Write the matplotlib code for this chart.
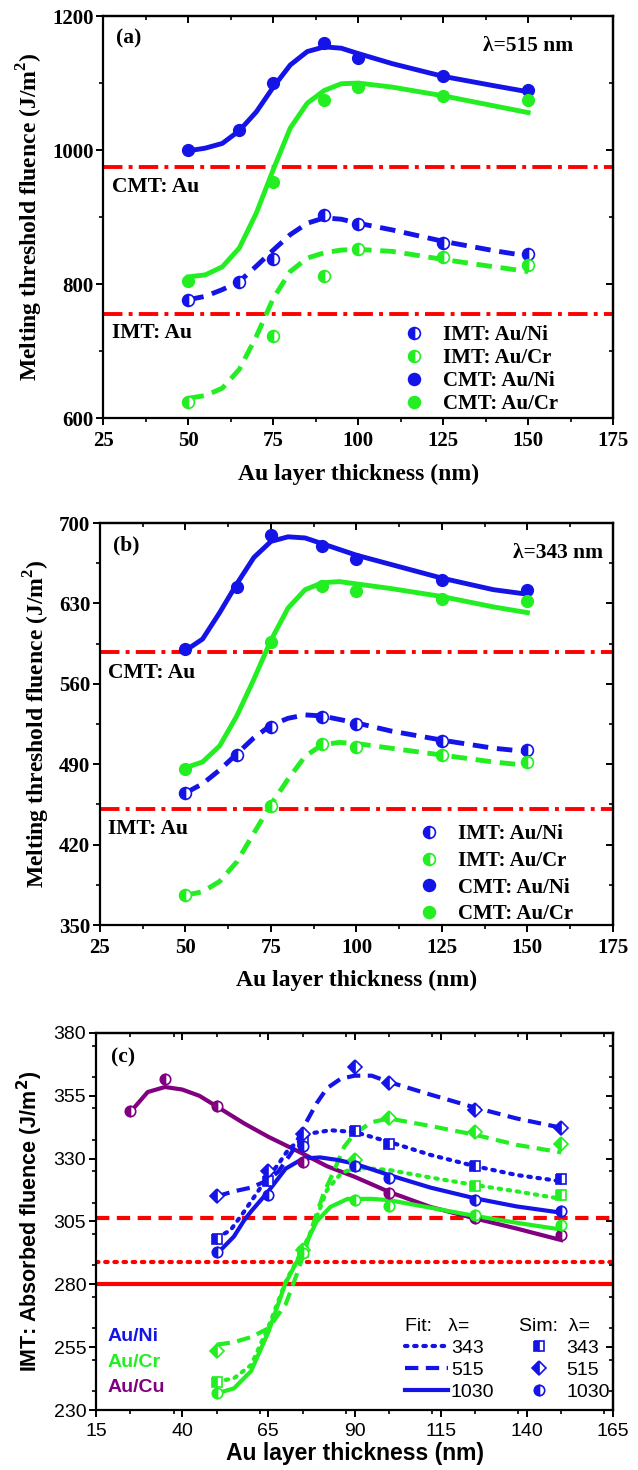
import matplotlib
matplotlib.use("Agg")
import matplotlib.pyplot as plt
from matplotlib.lines import Line2D
from matplotlib.ticker import MultipleLocator

AZUL, VERDE, ROJO, MORADO = "#1414E6", "#22EE22", "#FF0000", "#800080"
SERIF, SANS = "Liberation Serif", "Liberation Sans"

# ---------------- (a) lambda = 515 nm ----------------
x_ni = [50, 65, 75, 90, 100, 125, 150]
x_cr = [50, 75, 90, 100, 125, 150]
cmt_ni_a = [1000, 1030, 1100, 1160, 1137, 1110, 1090]
cmt_cr_a = [805, 952, 1075, 1094, 1081, 1075]
imt_ni_a = [777, 803, 838, 904, 890, 862, 845]
imt_cr_a = [625, 723, 813, 853, 840, 829]
au_cmt_a, au_imt_a = 975, 755

# curvas de ajuste
x_fit = [50, 55, 60, 65, 70, 75, 80, 85, 90, 95, 100, 110, 125, 140, 150]
fit_cmt_ni_a = [999, 1003, 1010, 1029, 1057, 1094, 1127, 1147, 1154, 1152, 1144, 1129, 1110, 1096, 1087]
fit_cmt_cr_a = [811, 814, 826, 854, 906, 971, 1033, 1070, 1089, 1099, 1100, 1094, 1081, 1066, 1056]
fit_imt_ni_a = [777, 782, 792, 804, 827, 851, 874, 891, 899, 897, 891, 881, 864, 850, 842]
fit_imt_cr_a = [630, 634, 645, 673, 722, 779, 819, 839, 847, 851, 852, 849, 837, 826, 819]

# ---------------- (b) lambda = 343 nm ----------------
cmt_ni_b = [590, 644, 690, 680, 669, 650, 642]
cmt_cr_b = [486, 596, 645, 641, 634, 632]
imt_ni_b = [465, 498, 522, 531, 525, 510, 502]
imt_cr_b = [376, 454, 508, 505, 498, 492]
au_cmt_b, au_imt_b = 588, 451

fit_cmt_ni_b = [589, 599, 622, 647, 670, 684, 688, 687, 682, 677, 672, 664, 652, 642, 638]
fit_cmt_cr_b = [487, 492, 506, 532, 564, 598, 626, 642, 648, 649, 647, 643, 636, 627, 622]
fit_imt_ni_b = [465, 473, 485, 499, 513, 524, 530, 533, 532, 529, 526, 519, 511, 504, 501]
fit_imt_cr_b = [376, 379, 388, 405, 430, 455, 477, 497, 507, 509, 508, 504, 498, 492, 489]

# ---------------- (c) IMT, fluencia absorbida ----------------
ni_343 = [298, 321, 337, 341, 336, 327, 322]
ni_515 = [315, 325, 340, 366.5, 360, 349.5, 342]
ni_1030 = [293, 315.5, 335, 327, 322.5, 313.5, 309]
x_cr343 = [50, 75, 90, 125, 150]
cr_343 = [241.3, 293, 327, 319.2, 315.5]
cr_515 = [253.3, 293.5, 329.5, 346, 340.5, 336]
cr_1030 = [236.6, 292.3, 313.5, 311.2, 307.5, 303.5]
x_cu = [25, 35, 50, 75, 100, 125, 150]
cu_1030 = [348.8, 361.5, 350.8, 328.7, 316.2, 306.5, 299.6]
au_515, au_343, au_1030 = 306.2, 289, 280.3

xf_cu = [25, 30, 35, 40, 45, 50, 58, 65, 75, 82, 90, 100, 112, 125, 137, 150]
fit_cu_1030 = [348.6, 356.5, 358.5, 357.5, 355, 350.8, 344, 338.7, 332, 327, 322.8, 316.8, 310.8, 306.2, 302.2, 297.6]
xf_ni1030 = [50, 55, 58, 60, 65, 70, 75, 80, 85, 90, 100, 112, 125, 137, 150]
fit_ni_1030 = [292, 299, 305.5, 309, 317, 326, 330, 330.5, 329.5, 328, 323.5, 318.5, 314.2, 311, 308.5]
xf_ni343 = [50, 54, 58, 63.5, 68, 71, 77, 83, 90, 100, 112, 125, 137, 150]
fit_ni_343 = [298.5, 301.5, 309, 320, 328, 334, 340, 341.3, 340.6, 336.7, 331.5, 327, 323.5, 321]
xf_ni515 = [50, 55, 60, 65, 68, 72, 75, 79, 82, 86, 90, 95, 100, 112, 125, 137, 150]
fit_ni_515 = [315, 317, 318.5, 321.5, 325, 333, 342, 352, 358, 361.8, 363, 363, 360.5, 355.5, 350.3, 346, 342.3]
xf_cr1030 = [50, 55, 60, 65, 70, 75, 79, 83, 88, 95, 100, 112, 125, 137, 150]
fit_cr_1030 = [236.6, 238.6, 245.5, 261, 280.5, 293.5, 305, 310.8, 314, 314, 313.5, 310.5, 307.2, 304.5, 301.8]
xf_cr343 = [50, 55, 60, 65, 70, 75, 78, 82, 86, 90, 100, 112, 125, 137, 150]
fit_cr_343 = [241.3, 242.6, 247.9, 263, 281, 294, 303, 317.5, 324, 326.5, 325.5, 322.5, 319.5, 317, 314]
xf_cr515 = [50, 55, 60, 65, 70, 73, 75, 78, 81, 84, 87, 90, 95, 100, 112, 125, 137, 150]
fit_cr_515 = [256, 257, 259, 262.5, 272, 283, 291, 304, 316, 325, 334.7, 340, 344.5, 346, 343, 339.5, 335.5, 332.5]

plt.rcParams.update({
    "font.family": SERIF, "font.weight": "bold", "axes.labelweight": "bold",
    "axes.linewidth": 1.6, "mathtext.fontset": "custom",
    "mathtext.rm": SERIF + ":bold", "mathtext.bf": SERIF + ":bold",
    "xtick.major.width": 1.4, "ytick.major.width": 1.4,
    "xtick.minor.width": 1.2, "ytick.minor.width": 1.2,
    "xtick.major.size": 5, "ytick.major.size": 5,
    "xtick.minor.size": 3, "ytick.minor.size": 3,
})


def marco(ax, xt, xmin, yt, ymin, familia, peso, tam):
    """Ticks hacia afuera abajo/izq y hacia adentro arriba/der."""
    ax.set_xticks(xt, labels=[str(v) for v in xt], fontfamily=familia,
                  fontweight=peso, fontsize=tam)
    ax.set_yticks(yt, labels=[str(v) for v in yt], fontfamily=familia,
                  fontweight=peso, fontsize=tam)
    ax.xaxis.set_minor_locator(MultipleLocator(xmin))
    ax.yaxis.set_minor_locator(MultipleLocator(ymin))
    ax.tick_params(which="both", direction="out")
    ax.tick_params(axis="x", pad=4)
    ax.tick_params(axis="y", pad=2)
    arriba = ax.secondary_xaxis("top")
    arriba.set_xticks(xt)
    arriba.xaxis.set_minor_locator(MultipleLocator(xmin))
    arriba.tick_params(which="both", direction="in", labeltop=False)
    der = ax.secondary_yaxis("right")
    der.set_yticks(yt)
    der.yaxis.set_minor_locator(MultipleLocator(ymin))
    der.tick_params(which="both", direction="in", labelright=False)


def medio(ax, x, y, color, marker="o", ms=8.5):
    ax.plot(x, y, ls="none", marker=marker, ms=ms, color=color, mfc=color,
            mfcalt="white", mec=color, mew=1.2, fillstyle="left", zorder=4)


def lleno(ax, x, y, color):
    ax.plot(x, y, ls="none", marker="o", ms=8.5, color=color, zorder=4)


def panel_fusion(ax, d, etiqueta, lam, lam_x, leg_xy, leg_sp, txt_y):
    (cni, ccr, ini, icr, fcni, fccr, fini, ficr, ycmt, yimt) = d
    ax.axhline(ycmt, color=ROJO, ls=(0, (5, 1.6, 1, 1.6)), lw=2.8, zorder=1)
    ax.axhline(yimt, color=ROJO, ls=(0, (5, 1.6, 1, 1.6)), lw=2.8, zorder=1)
    ax.plot(x_fit, fcni, color=AZUL, lw=3.5)
    ax.plot(x_fit, fccr, color=VERDE, lw=3.5)
    ax.plot(x_fit, fini, color=AZUL, lw=3.5, ls=(0, (3.2, 1.8)))
    ax.plot(x_fit, ficr, color=VERDE, lw=3.5, ls=(0, (3.2, 1.8)))
    lleno(ax, x_ni, cni, AZUL)
    lleno(ax, x_cr, ccr, VERDE)
    medio(ax, x_ni, ini, AZUL)
    medio(ax, x_cr, icr, VERDE)
    ax.set_xlim(25, 175)
    ax.set_xlabel("Au layer thickness (nm)", fontsize=17, labelpad=9)
    ax.set_ylabel(r"Melting threshold fluence (J/m$^{2}$)", fontsize=17,
                  labelpad=5)
    ax.text(0.025, 0.945, etiqueta, transform=ax.transAxes, fontsize=15.5,
            va="center")
    ax.text(lam_x, 0.925, lam, transform=ax.transAxes, fontsize=15.5,
            va="center", ha="left")
    ax.text(0.016, txt_y[0], "CMT: Au", transform=ax.transAxes, fontsize=15.5,
            va="center")
    ax.text(0.016, txt_y[1], "IMT: Au", transform=ax.transAxes, fontsize=15.5,
            va="center")
    kw = dict(ls="none", marker="o", ms=8.5, mew=1.2)
    manijas = [
        Line2D([], [], color=AZUL, mfc=AZUL, mfcalt="white", fillstyle="left", **kw),
        Line2D([], [], color=VERDE, mfc=VERDE, mfcalt="white", fillstyle="left", **kw),
        Line2D([], [], color=AZUL, **kw),
        Line2D([], [], color=VERDE, **kw),
    ]
    ax.legend(manijas, ["IMT: Au/Ni", "IMT: Au/Cr", "CMT: Au/Ni", "CMT: Au/Cr"],
              loc="center left", bbox_to_anchor=leg_xy, frameon=False,
              prop=dict(family=SERIF, weight="bold", size=15),
              handlelength=1.2, handletextpad=0.8, labelspacing=leg_sp,
              borderpad=0, borderaxespad=0)


fig = plt.figure(figsize=(6.38, 14.7), dpi=100)
ax_a = fig.add_axes([0.162, 0.7154, 0.799, 0.2737])
ax_b = fig.add_axes([0.1567, 0.3707, 0.804, 0.2735])
ax_c = fig.add_axes([0.1505, 0.0408, 0.8103, 0.2565])

panel_fusion(ax_a, (cmt_ni_a, cmt_cr_a, imt_ni_a, imt_cr_a, fit_cmt_ni_a,
                    fit_cmt_cr_a, fit_imt_ni_a, fit_imt_cr_a, au_cmt_a, au_imt_a),
             "(a)", "λ=515 nm", 0.745, (0.585, 0.121), 0.14, (0.574, 0.212))
ax_a.set_ylim(600, 1200)
marco(ax_a, [25, 50, 75, 100, 125, 150, 175], 12.5,
      [600, 800, 1000, 1200], 100, SERIF, "bold", 15)

panel_fusion(ax_b, (cmt_ni_b, cmt_cr_b, imt_ni_b, imt_cr_b, fit_cmt_ni_b,
                    fit_cmt_cr_b, fit_imt_ni_b, fit_imt_cr_b, au_cmt_b, au_imt_b),
             "(b)", "λ=343 nm", 0.805, (0.617, 0.1265), 0.32, (0.627, 0.239))
ax_b.set_ylim(350, 700)
marco(ax_b, [25, 50, 75, 100, 125, 150, 175], 12.5,
      [350, 420, 490, 560, 630, 700], 35, SERIF, "bold", 15)

# ---------------- panel (c) ----------------
ax = ax_c
ax.axhline(au_515, color=ROJO, lw=3, ls=(0, (3.2, 1.8)), zorder=1)
ax.axhline(au_343, color=ROJO, lw=3, ls=(0, (0.6, 1.6)), dash_capstyle="round", zorder=1)
ax.axhline(au_1030, color=ROJO, lw=3, zorder=1)
punteado = dict(ls=(0, (0.6, 1.6)), dash_capstyle="round")
rayado = dict(ls=(0, (3.2, 1.8)))
ax.plot(xf_cu, fit_cu_1030, color=MORADO, lw=3)
ax.plot(xf_cr1030, fit_cr_1030, color=VERDE, lw=3)
ax.plot(xf_cr343, fit_cr_343, color=VERDE, lw=3, **punteado)
ax.plot(xf_cr515, fit_cr_515, color=VERDE, lw=3, **rayado)
ax.plot(xf_ni1030, fit_ni_1030, color=AZUL, lw=3)
ax.plot(xf_ni343, fit_ni_343, color=AZUL, lw=3, **punteado)
ax.plot(xf_ni515, fit_ni_515, color=AZUL, lw=3, **rayado)
medio(ax, x_cu, cu_1030, MORADO, "o", 7.5)
medio(ax, x_cr343, cr_343, VERDE, "s", 7)
medio(ax, x_cr, cr_515, VERDE, "D", 7)
medio(ax, x_cr, cr_1030, VERDE, "o", 7.5)
medio(ax, x_ni, ni_343, AZUL, "s", 7)
medio(ax, x_ni, ni_515, AZUL, "D", 7)
medio(ax, x_ni, ni_1030, AZUL, "o", 7.5)
ax.set_xlim(15, 165)
ax.set_ylim(230, 380)
marco(ax, [15, 40, 65, 90, 115, 140, 165], 12.5,
      [230, 255, 280, 305, 330, 355, 380], 12.5, SANS, "normal", 14)
ax.set_xlabel("Au layer thickness (nm)", fontfamily=SANS, fontsize=16.5,
              labelpad=1.5)
ax.set_ylabel("IMT: Absorbed fluence (J/m$^{2}$)", fontfamily=SANS,
              fontsize=15.5, labelpad=6, math_fontfamily="dejavusans")
ax.text(0.029, 0.936, "(c)", transform=ax.transAxes, fontsize=15.5,
        va="center")
for y, txt, col in [(0.194, "Au/Ni", AZUL), (0.127, "Au/Cr", VERDE),
                    (0.061, "Au/Cu", MORADO)]:
    ax.text(0.023, y, txt, color=col, transform=ax.transAxes, fontfamily=SANS,
            fontsize=14, fontweight="bold", va="center")

prop_c = dict(family=SANS, weight="normal", size=14)
lineas = [Line2D([], [], color=AZUL, lw=3, **punteado),
          Line2D([], [], color=AZUL, lw=3, **rayado),
          Line2D([], [], color=AZUL, lw=3)]
leg1 = ax.legend(lineas, ["343", "515", "1030"], title="Fit:   λ=",
                 title_fontproperties=prop_c, prop=prop_c, alignment="left",
                 loc="upper left", bbox_to_anchor=(0.598, 0.243), frameon=False,
                 handlelength=2.2, handletextpad=0.15, labelspacing=0.22,
                 borderpad=0, borderaxespad=0)
ax.add_artist(leg1)
kw = dict(ls="none", color=AZUL, mfc=AZUL, mfcalt="white", fillstyle="left",
          mew=1.2)
simbolos = [Line2D([], [], marker="s", ms=7, **kw),
            Line2D([], [], marker="D", ms=7, **kw),
            Line2D([], [], marker="o", ms=7.5, **kw)]
ax.legend(simbolos, ["343", "515", "1030"], title="Sim:  λ=",
          title_fontproperties=prop_c, prop=prop_c, alignment="left",
          loc="upper left", bbox_to_anchor=(0.818, 0.243), frameon=False,
          handlelength=2.1, handletextpad=0.35, labelspacing=0.22,
          borderpad=0, borderaxespad=0)

fig.savefig("out.png", dpi=100)
